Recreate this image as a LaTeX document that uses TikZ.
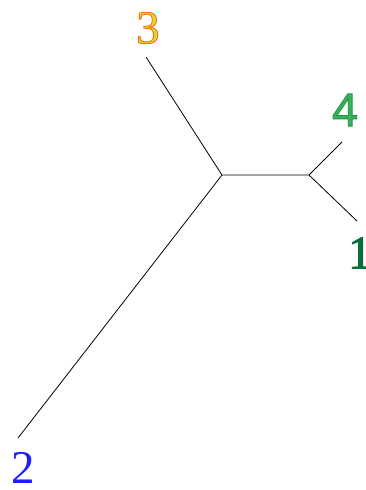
\documentclass[tikz,border=0pt]{standalone}
\usepackage{fontspec}
\setmainfont{Liberation Serif}
\newfontfamily\lsans{Liberation Sans}
\definecolor{orng}{HTML}{FF6A10}
\definecolor{yllw}{HTML}{D8DC30}
\definecolor{grnA}{HTML}{179A3A}
\definecolor{grnB}{HTML}{3CB060}
\definecolor{grnD}{HTML}{0A6E3A}
\definecolor{blu}{HTML}{1E1EF5}
% outlined digit: fill colour from the node, stroke given as rgb
\newcommand{\outl}[2]{\special{pdf:literal direct 2 Tr 0.9 w #1 RG}#2\special{pdf:literal direct 0 Tr}}
\tikzset{lbl/.style={inner sep=0pt,font=\fontsize{47}{50}\selectfont}}
\begin{document}
\begin{tikzpicture}[x=1pt,y=-1pt,line width=.8pt]
\useasboundingbox (0,0) rectangle (365,490);
\coordinate (a) at (222,175);
\coordinate (b) at (309,175);
\coordinate (l3) at (146,57);
\coordinate (l4) at (342,142);
\coordinate (l1) at (357,221);
\coordinate (l2) at (18,438);
\draw (l3)--(a)--(b)--(l4);
\draw (b)--(l1);
\draw (a)--(l2);
\node[lbl,text=yllw] (t3) at (148,28){\outl{1 0.42 0.06}{3}};
\node[lbl,text=grnB] (t4) at (345,110){\outl{0.09 0.6 0.23}{\lsans 4}};
\node[lbl,text=grnD] (t1) at (360,253){\outl{0.04 0.43 0.23}{1}};
\node[lbl,text=blu] (t2) at (23,468){2};
\end{tikzpicture}
\end{document}
